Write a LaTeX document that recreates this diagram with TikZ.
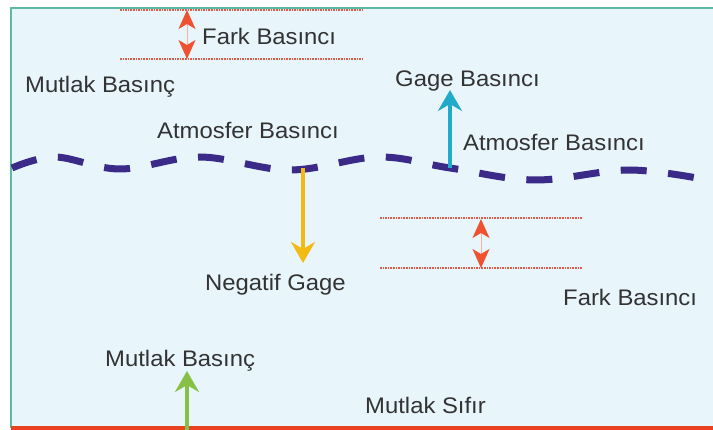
\documentclass[tikz,border=0pt]{standalone}
\usepackage{fontspec}
\setmainfont[FakeStretch=1.06]{Liberation Sans}
\usetikzlibrary{arrows.meta}
\definecolor{bgblue}{HTML}{E8F5FB}
\definecolor{frameteal}{HTML}{5DB9A3}
\definecolor{zerored}{HTML}{E8431E}
\definecolor{diffred}{HTML}{EE5230}
\definecolor{dotred}{HTML}{E85A48}
\definecolor{atmpurple}{HTML}{3B2A88}
\definecolor{gagecyan}{HTML}{22AACB}
\definecolor{neggold}{HTML}{F5B914}
\definecolor{absgreen}{HTML}{86C045}
\definecolor{labelgray}{HTML}{333333}
\tikzset{
  lbl/.style={anchor=base west, inner sep=0pt, text=labelgray,
    font=\fontsize{22.5}{26}\selectfont},
  refline/.style={dotred, line width=1.1pt, dash pattern=on 1.6pt off 1pt},
  difftip/.tip={Stealth[length=19pt, width=17pt, inset=5pt, color=diffred]},
  diffarrow/.style={draw=diffred!45, line width=1pt, {difftip}-{difftip}},
  presarrow/.style={line width=3.5pt, -{Stealth[length=21pt, width=24pt, inset=7pt]}},
}
\begin{document}
\begin{tikzpicture}[x=1pt, y=-1pt]
\useasboundingbox (0,0) rectangle (713,430);
% panel
\fill[bgblue] (11,8) rectangle (713,430);
\draw[frameteal, line width=2.2pt] (11,428) -- (11,8) -- (713,8);

% absolute zero
\coordinate (z0) at (11,428);
\coordinate (z1) at (713,428);
\draw[zerored, line width=4.5pt] (z0) -- (z1);

% atmospheric pressure level
\draw[atmpurple, line width=7pt, dash pattern=on 26pt off 21.5pt]
  plot[smooth, tension=0.6] coordinates {(12,168) (55,157) (120,169) (200,157) (290,170)
    (378,157) (450,168) (535,180) (630,170) (713,181)};

% upper pressure difference
\coordinate (ua) at (120,10); \coordinate (ub) at (362,10);
\coordinate (uc) at (120,59); \coordinate (ud) at (362,59);
\draw[refline] (ua) -- (ub);
\draw[refline] (uc) -- (ud);
\coordinate (ut) at (187,10); \coordinate (ubm) at (187,59);
\draw[diffarrow] (ubm) -- (ut);

% lower pressure difference
\coordinate (la) at (380,218); \coordinate (lb) at (582,218);
\coordinate (lc) at (380,268); \coordinate (ld) at (582,268);
\draw[refline] (la) -- (lb);
\draw[refline] (lc) -- (ld);
\coordinate (lt) at (481,219); \coordinate (lbm) at (481,268);
\draw[diffarrow] (lbm) -- (lt);

% gage, negative gage and absolute arrows
\coordinate (g0) at (450,168); \coordinate (g1) at (450,90);
\draw[presarrow, gagecyan] (g0) -- (g1);
\coordinate (n0) at (303,168); \coordinate (n1) at (303,263);
\draw[presarrow, neggold] (n0) -- (n1);
\coordinate (a0) at (187,430); \coordinate (a1) at (187,371);
\draw[presarrow, absgreen] (a0) -- (a1);

% labels
\node[lbl] (farkTop) at (202,45) {Fark Basıncı};
\node[lbl] (mutlakTop) at (25,93) {Mutlak Basınç};
\node[lbl] (gage) at (395,87) {Gage Basıncı};
\node[lbl] (atmLeft) at (157,139) {Atmosfer Basıncı};
\node[lbl] (atmRight) at (463,151) {Atmosfer Basıncı};
\node[lbl] (neg) at (205,291) {Negatif Gage};
\node[lbl] (farkBot) at (563,306) {Fark Basıncı};
\node[lbl] (mutlakBot) at (105,367) {Mutlak Basınç};
\node[lbl] (sifir) at (365,414) {Mutlak Sıfır};
\end{tikzpicture}
\end{document}
